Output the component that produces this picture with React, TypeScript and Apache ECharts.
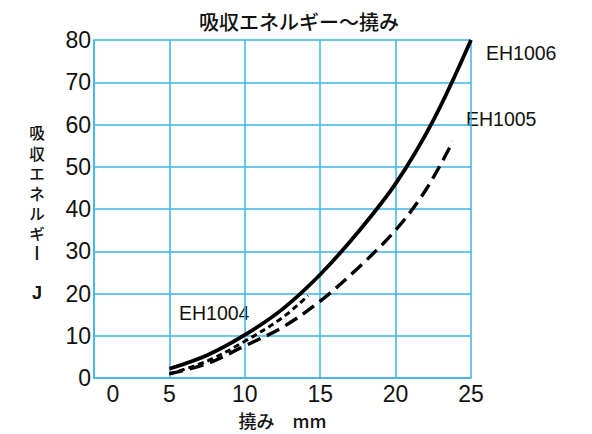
import React, { useEffect, useRef } from "react";
import * as echarts from "echarts";

const title = "吸収エネルギー～撓み";
const xAxisName = "撓み　mm";
const yAxisNameChars = ["吸", "収", "エ", "ネ", "ル", "ギ", "|"];
const yAxisUnit = "J";

const eh1006: [number, number][] = [
  [5, 2.2], [7.5, 5.4], [10, 10.2], [12.5, 16.3], [15, 24.5], [17.5, 34.5], [20, 46], [22.5, 61], [25, 80],
];
const eh1005: [number, number][] = [
  [5, 1], [7.5, 3.4], [10, 7.6], [12.5, 12], [15, 18.2], [17.5, 26], [20, 35], [22, 44.5], [23.8, 56],
];
const eh1004: [number, number][] = [
  [5, 1], [7.5, 4], [10, 8.7], [12.5, 14.3], [14.2, 19.5],
];

const BLUE = "#3bb4e8";
const FONT = "'Liberation Sans', 'Noto Sans CJK JP', sans-serif";
const CJK = "'Noto Sans CJK JP', sans-serif";
const INK = "#111";

export default function App() {
  const ref = useRef<HTMLDivElement>(null);
  useEffect(() => {
    if (!ref.current) return;
    const chart = echarts.init(ref.current, undefined, { renderer: "svg" });
    const yNameY = [132, 152.5, 172.5, 192.5, 212.5, 232.5, 251];
    chart.setOption({
      animation: false,
      backgroundColor: "#fff",
      title: {
        text: title,
        left: 294,
        textAlign: "center",
        top: 6,
        textStyle: { fontFamily: CJK, fontSize: 20, fontWeight: 500, color: INK },
      },
      grid: { left: 94, right: 121, top: 40, bottom: 53 },
      xAxis: {
        type: "value",
        min: 0,
        max: 25,
        interval: 5,
        name: xAxisName,
        nameLocation: "middle",
        nameGap: 33,
        nameTextStyle: { fontFamily: CJK, fontSize: 18, fontWeight: 500, color: INK },
        axisLine: { show: true, lineStyle: { color: BLUE, width: 1.5 } },
        axisTick: { show: false },
        splitLine: { show: true, lineStyle: { color: BLUE, width: 1.5 } },
        axisLabel: {
          fontFamily: FONT,
          fontSize: 23,
          color: INK,
          margin: 4,
          formatter: (v: number) => (v === 0 ? "{z|0}" : String(v)),
          rich: { z: { fontFamily: FONT, fontSize: 23, color: INK, padding: [0, 0, 0, 38] } },
        },
      },
      yAxis: {
        type: "value",
        min: 0,
        max: 80,
        interval: 10,
        axisLine: { show: true, lineStyle: { color: BLUE, width: 1.5 } },
        axisTick: { show: false },
        splitLine: { show: true, lineStyle: { color: BLUE, width: 1.5 } },
        axisLabel: { fontFamily: FONT, fontSize: 23, color: INK, margin: 3 },
      },
      graphic: [
        ...yAxisNameChars.map((ch, i) => ({
          type: "text",
          x: 37,
          y: yNameY[i],
          style: {
            text: ch,
            fontFamily: ch === "|" ? FONT : CJK,
            fontSize: 15.5,
            lineHeight: 15,
            fontWeight: ch === "|" ? "bold" : 500,
            fill: INK,
            align: "center",
            verticalAlign: "middle",
          },
        })),
        {
          type: "text",
          x: 37,
          y: 293,
          style: {
            text: yAxisUnit, fontFamily: FONT, fontSize: 18, fontWeight: "bold", fill: INK,
            align: "center", verticalAlign: "middle",
          },
        },
        {
          type: "text",
          x: 486,
          y: 53,
          style: { text: "EH1006", fontFamily: FONT, fontSize: 19.5, fill: INK, verticalAlign: "middle" },
        },
        {
          type: "text",
          x: 466,
          y: 119,
          style: { text: "EH1005", fontFamily: FONT, fontSize: 19.5, fill: INK, verticalAlign: "middle" },
        },
        {
          type: "text",
          x: 179,
          y: 313,
          style: { text: "EH1004", fontFamily: FONT, fontSize: 19.5, fill: INK, verticalAlign: "middle" },
        },
      ],
      series: [
        {
          name: "EH1006",
          type: "line",
          data: eh1006,
          smooth: 0.35,
          symbol: "none",
          lineStyle: { color: "#000", width: 3.8 },
        },
        {
          name: "EH1005",
          type: "line",
          data: eh1005,
          smooth: 0.35,
          symbol: "none",
          lineStyle: { color: "#000", width: 3.4, type: [14, 7] },
        },
        {
          name: "EH1004",
          type: "line",
          data: eh1004,
          smooth: 0.35,
          symbol: "none",
          lineStyle: { color: "#000", width: 3, type: [6, 4] },
        },
      ],
    });
    return () => chart.dispose();
  }, []);
  return (
    <div
      ref={ref}
      style={{ position: "fixed", left: 0, top: 0, width: 592, height: 434 }}
    />
  );
}
